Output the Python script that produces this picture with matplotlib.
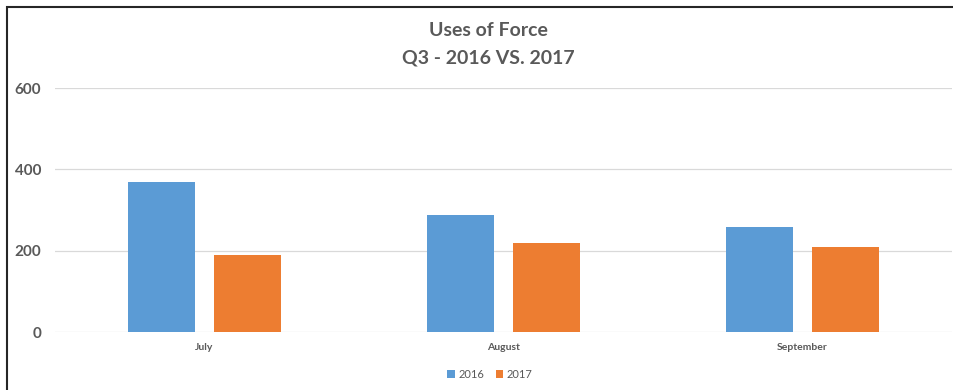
import matplotlib
matplotlib.use("Agg")
import matplotlib.pyplot as plt
from matplotlib.patches import Rectangle
import numpy as np

categories = ["July", "August", "September"]
series_names = ["2016", "2017"]
values_2016 = [368, 287, 259]
values_2017 = [189, 220, 209]
yticks = [0, 200, 400, 600]

colors = ["#5B9BD5", "#ED7D31"]
gray = "#595959"
plt.rcParams['font.family'] = ['Lato', 'DejaVu Sans']

fig = plt.figure(figsize=(9.54, 3.9), dpi=100)
ax = fig.add_axes([55/954, (390-332)/390, (952-55)/954, (332-88)/390])

x = np.arange(len(categories))
w = 0.224
off = 0.143
ax.bar(x - off, values_2016, w, color=colors[0], label=series_names[0], zorder=3)
ax.bar(x + off, values_2017, w, color=colors[1], label=series_names[1], zorder=3)

ax.set_xlim(-0.5, 2.5)
ax.set_ylim(0, 600)
ax.set_yticks(yticks)
ax.set_yticklabels([str(t) for t in yticks], fontsize=11, fontweight='bold', color=gray)
ax.set_xticks(x)
ax.set_xticklabels(categories, fontsize=7.5, fontweight='bold', color=gray)
ax.tick_params(axis='both', length=0)
ax.tick_params(axis='y', pad=10)
ax.tick_params(axis='x', pad=8)
ax.grid(axis='y', color='#D9D9D9', linewidth=0.9, zorder=0)
for s in ax.spines.values():
    s.set_visible(False)

fig.text(488/954, 1 - 31/390, "Uses of Force", ha='center', va='center',
         fontsize=14, fontweight='bold', color=gray)
fig.text(488/954, 1 - 58/390, "Q3 - 2016 VS. 2017", ha='center', va='center',
         fontsize=14, fontweight='bold', color=gray)

leg = fig.legend(loc='center', bbox_to_anchor=(490/954, 1 - 374/390), ncol=2,
                 frameon=False, fontsize=8, handlelength=0.7, handleheight=0.7,
                 handletextpad=0.3, columnspacing=1.0)
for t in leg.get_texts():
    t.set_color(gray)

fig.patches.append(Rectangle((7/954, -0.1), 1.2, 1 - 7/390 + 0.1, transform=fig.transFigure,
                             fill=False, edgecolor='#262626', linewidth=1.5))

fig.savefig("out.png", dpi=100)
